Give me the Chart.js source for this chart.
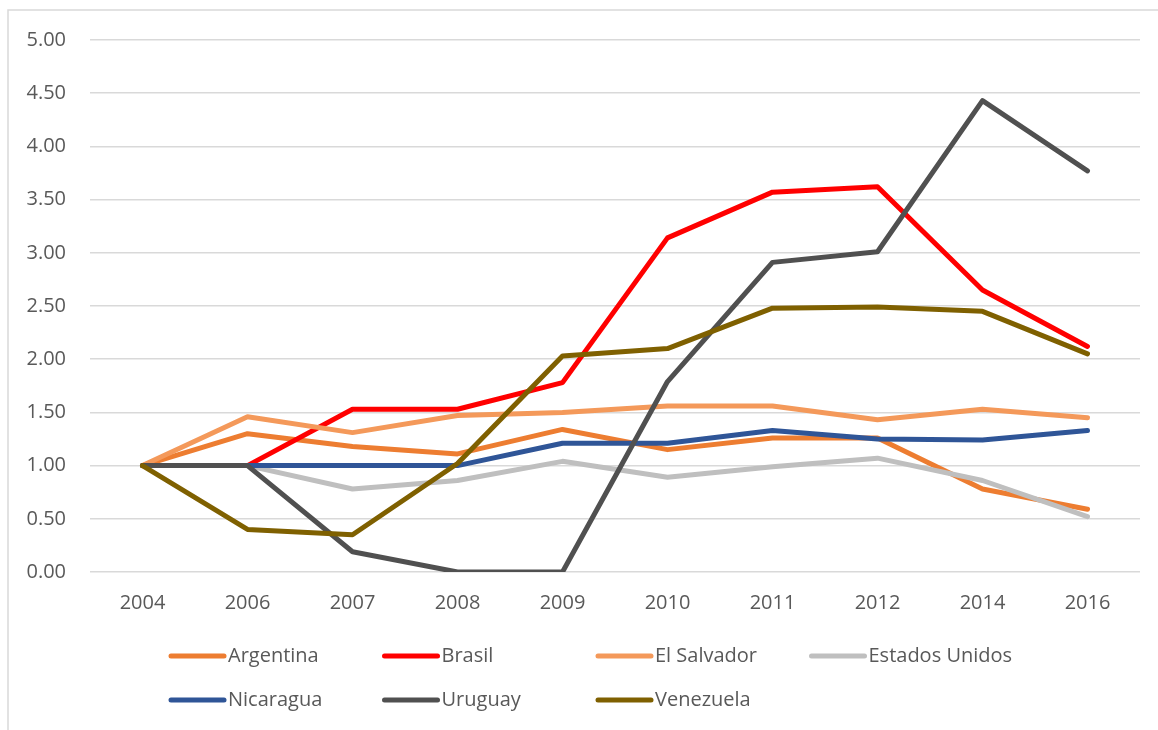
<!DOCTYPE html>
<html>
<head>
<meta charset="utf-8">
<script src="https://cdn.jsdelivr.net/npm/chart.js@4.4.1/dist/chart.umd.min.js"></script>
<style>
  html, body { margin: 0; padding: 0; background: #ffffff; }
  #wrap { position: relative; width: 1158px; height: 730px; }
</style>
</head>
<body>
<div id="wrap"><canvas id="c" width="1158" height="730"></canvas></div>
<script>
const categories = ['2004', '2006', '2007', '2008', '2009', '2010', '2011', '2012', '2014', '2016'];
const seriesNames = ['Argentina', 'Brasil', 'El Salvador', 'Estados Unidos', 'Nicaragua', 'Uruguay', 'Venezuela'];
const argentina     = [1.00, 1.30, 1.18, 1.11, 1.34, 1.15, 1.26, 1.26, 0.78, 0.59];
const brasil        = [1.00, 1.00, 1.53, 1.53, 1.78, 3.14, 3.57, 3.62, 2.65, 2.12];
const elSalvador    = [1.00, 1.46, 1.31, 1.47, 1.50, 1.56, 1.56, 1.43, 1.53, 1.45];
const estadosUnidos = [1.00, 1.00, 0.78, 0.86, 1.04, 0.89, 0.99, 1.07, 0.86, 0.52];
const nicaragua     = [1.00, 1.00, 1.00, 1.00, 1.21, 1.21, 1.33, 1.25, 1.24, 1.33];
const uruguay       = [1.00, 1.00, 0.19, 0.00, 0.00, 1.79, 2.91, 3.01, 4.43, 3.77];
const venezuela     = [1.00, 0.40, 0.35, 1.02, 2.03, 2.10, 2.48, 2.49, 2.45, 2.05];
const yTicks = [0, 0.5, 1, 1.5, 2, 2.5, 3, 3.5, 4, 4.5, 5];

const seriesValues = [argentina, brasil, elSalvador, estadosUnidos, nicaragua, uruguay, venezuela];
const seriesColors = ['#ED7D31', '#FF0000', '#F4995A', '#BFBFBF', '#2F5597', '#505050', '#7F6000'];

const FONT = '"Open Sans", "Noto Sans", sans-serif';
const TEXT = '#595959';

const datasets = seriesNames.map((name, i) => ({
  label: name,
  data: seriesValues[i],
  borderColor: seriesColors[i],
  backgroundColor: seriesColors[i],
  borderWidth: 5,
  pointRadius: 0,
  pointHoverRadius: 0,
  tension: 0,
  fill: false,
  borderCapStyle: 'round',
  borderJoinStyle: 'round',
  order: seriesNames.length - 1 - i
}));

const framePlugin = {
  id: 'frame',
  beforeDraw(chart) {
    const ctx = chart.ctx;
    ctx.save();
    ctx.fillStyle = '#ffffff';
    ctx.fillRect(0, 0, chart.width, chart.height);
    ctx.strokeStyle = '#d9d9d9';
    ctx.lineWidth = 1.5;
    ctx.beginPath();
    ctx.moveTo(8, chart.height);
    ctx.lineTo(8, 10);
    ctx.lineTo(chart.width, 10);
    ctx.stroke();
    ctx.restore();
  }
};

const gridLegend = {
  id: 'gridLegend',
  afterDraw(chart) {
    const ctx = chart.ctx;
    const startX = 169, colW = 213.5, rowY = [656, 700], lineLen = 55, perRow = 4;
    ctx.save();
    ctx.font = '20px ' + FONT;
    ctx.textBaseline = 'middle';
    ctx.textAlign = 'left';
    chart.data.datasets.forEach((ds, i) => {
      const col = i % perRow, row = Math.floor(i / perRow);
      const x = startX + col * colW, y = rowY[row];
      ctx.strokeStyle = ds.borderColor;
      ctx.lineWidth = 5;
      ctx.lineCap = 'round';
      ctx.beginPath();
      ctx.moveTo(x + 2, y);
      ctx.lineTo(x + lineLen, y);
      ctx.stroke();
      ctx.fillStyle = TEXT;
      ctx.fillText(ds.label, x + lineLen + 4, y);
    });
    ctx.restore();
  }
};

new Chart(document.getElementById('c'), {
  type: 'line',
  data: { labels: categories, datasets },
  plugins: [framePlugin, gridLegend],
  options: {
    responsive: false,
    animation: false,
    devicePixelRatio: 1,
    layout: { padding: { left: 0, right: 18, top: 40, bottom: 0 } },
    plugins: { legend: { display: false }, tooltip: { enabled: false } },
    scales: {
      x: {
        offset: true,
        grid: { display: false, drawTicks: false },
        border: { display: false },
        ticks: { color: TEXT, font: { family: FONT, size: 20 }, padding: 19, maxRotation: 0 },
        afterFit(scale) { scale.height = 158; }
      },
      y: {
        min: 0, max: 5,
        afterBuildTicks(scale) { scale.ticks = yTicks.map(v => ({ value: v })); },
        grid: { color: '#d9d9d9', lineWidth: 1.5, drawTicks: false },
        border: { display: false },
        ticks: {
          color: TEXT, font: { family: FONT, size: 20 }, padding: 24,
          callback: v => Number(v).toFixed(2)
        },
        afterFit(scale) { scale.width = 90; }
      }
    }
  }
});
</script>
</body>
</html>
